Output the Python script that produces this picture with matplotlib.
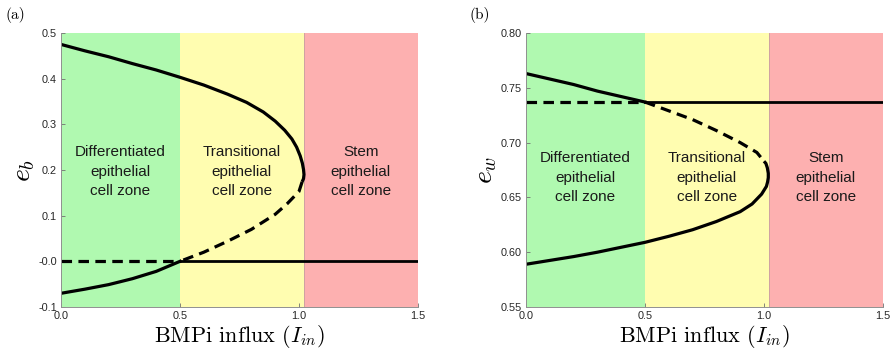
import matplotlib
matplotlib.use('Agg')
import matplotlib.pyplot as plt

plt.rcParams['mathtext.fontset'] = 'cm'
plt.rcParams['font.family'] = ['Liberation Sans', 'DejaVu Sans']

# zone boundaries along the BMPi influx axis
zone_edges = [0.0, 0.5, 1.02, 1.5]
zone_colors = ['#b0f9b0', '#fffdb0', '#fdb0b0']
zone_names = ['Differentiated\nepithelial\ncell zone',
              'Transitional\nepithelial\ncell zone',
              'Stem\nepithelial\ncell zone']
zone_text_x = [0.25, 0.76, 1.26]

# (a) e_b branches
a_upper_I = [0.0, 0.1, 0.2, 0.3, 0.4, 0.5, 0.6, 0.7, 0.78, 0.85, 0.9, 0.94, 0.97, 0.99, 1.005, 1.014, 1.019, 1.021, 1.019, 1.013]
a_upper_e = [0.475, 0.461, 0.448, 0.433, 0.419, 0.403, 0.386, 0.366, 0.348, 0.327, 0.307, 0.287, 0.268, 0.250, 0.231, 0.215, 0.201, 0.190, 0.181, 0.174]
a_unst_I = [1.013, 1.0, 0.95, 0.9, 0.8, 0.7, 0.6, 0.5]
a_unst_e = [0.174, 0.153, 0.126, 0.103, 0.070, 0.044, 0.020, 0.0]
a_lower_I = [0.0, 0.1, 0.2, 0.3, 0.4, 0.5]
a_lower_e = [-0.070, -0.061, -0.051, -0.038, -0.022, 0.0]
a_zero_dash_I = [0.0, 0.5]
a_zero_solid_I = [0.5, 1.5]
a_zero_e = 0.0

# (b) e_w branches
b_upper_I = [0.0, 0.1, 0.2, 0.3, 0.4, 0.5]
b_upper_e = [0.763, 0.758, 0.753, 0.747, 0.742, 0.737]
b_unst_I = [0.5, 0.6, 0.7, 0.8, 0.9, 0.97, 1.0]
b_unst_e = [0.737, 0.729, 0.721, 0.711, 0.700, 0.691, 0.683]
b_lower_I = [1.0, 1.008, 1.014, 1.018, 1.018, 1.015, 1.01, 0.99, 0.95, 0.9, 0.8, 0.7, 0.6, 0.5, 0.4, 0.3, 0.2, 0.1, 0.0]
b_lower_e = [0.683, 0.681, 0.677, 0.672, 0.668, 0.664, 0.660, 0.653, 0.644, 0.637, 0.628, 0.6205, 0.6145, 0.609, 0.6045, 0.600, 0.596, 0.5925, 0.589]
b_flat_dash_I = [0.0, 0.5]
b_flat_solid_I = [0.5, 1.5]
b_flat_e = 0.737

a_yticks = [-0.1, 0.0, 0.1, 0.2, 0.3, 0.4, 0.5]
a_yticklabels = ['-0.1', '-0.0', '0.1', '0.2', '0.3', '0.4', '0.5']
b_yticks = [0.55, 0.60, 0.65, 0.70, 0.75, 0.80]
b_yticklabels = ['0.55', '0.60', '0.65', '0.70', '0.75', '0.80']
xticks = [0.0, 0.5, 1.0, 1.5]
xticklabels = ['0.0', '0.5', '1.0', '1.5']

fig = plt.figure(figsize=(8.93, 3.5), dpi=100)
ax_a = fig.add_axes([61/893, 43/350, 357/893, 274/350])
ax_b = fig.add_axes([526/893, 43/350, 357/893, 274/350])

dash = (0, (3.3, 2.0))
lw = 2.3


def setup(ax, ylim, yticks, yticklabels, ylabel, text_y):
    for i in range(3):
        ax.axvspan(zone_edges[i], zone_edges[i+1], color=zone_colors[i], lw=0, zorder=0)
        ax.text(zone_text_x[i], text_y, zone_names[i], ha='center', va='center',
                fontsize=11, color='#1a1a1a', linespacing=1.5, zorder=1)
    ax.axvline(zone_edges[2], color='#c8a0a0', lw=0.6, zorder=0.5)
    ax.set_xlim(0, 1.5)
    ax.set_ylim(*ylim)
    ax.set_xticks(xticks)
    ax.set_xticklabels(xticklabels)
    ax.set_yticks(yticks)
    ax.set_yticklabels(yticklabels)
    ax.tick_params(direction='in', length=3, width=0.6, color='#707070',
                   labelsize=7.8, labelcolor='#262626', pad=3)
    for s in ['top', 'right']:
        ax.spines[s].set_visible(False)
    for s in ['left', 'bottom']:
        ax.spines[s].set_color('#909090')
        ax.spines[s].set_linewidth(0.7)
    ax.set_xlabel(r'BMPi influx ($I_{in}$)', fontsize=16, family='cmr10', labelpad=1)
    ax.set_ylabel(ylabel, fontsize=20, labelpad=1)


setup(ax_a, (-0.1, 0.5), a_yticks, a_yticklabels, r'$e_b$', 0.196)
ax_a.plot(a_upper_I, a_upper_e, 'k-', lw=lw, solid_capstyle='butt')
ax_a.plot(a_unst_I, a_unst_e, color='k', ls=dash, lw=lw)
ax_a.plot(a_lower_I, a_lower_e, 'k-', lw=lw)
ax_a.plot(a_zero_dash_I, [a_zero_e]*2, color='k', ls=dash, lw=lw)
ax_a.plot(a_zero_solid_I, [a_zero_e]*2, 'k-', lw=2.0)

setup(ax_b, (0.55, 0.80), b_yticks, b_yticklabels, r'$e_w$', 0.668)
ax_b.plot(b_upper_I, b_upper_e, 'k-', lw=lw)
ax_b.plot(b_unst_I, b_unst_e, color='k', ls=dash, lw=lw)
ax_b.plot(b_lower_I, b_lower_e, 'k-', lw=lw, solid_capstyle='butt')
ax_b.plot(b_flat_dash_I, [b_flat_e]*2, color='k', ls=dash, lw=lw)
ax_b.plot(b_flat_solid_I, [b_flat_e]*2, 'k-', lw=2.0)

# panel labels
fig.text(15.5/893, 1 - 15/350, '(a)', fontsize=11, family='cmr10', ha='center', va='center')
fig.text(480/893, 1 - 15/350, '(b)', fontsize=11, family='cmr10', ha='center', va='center')

fig.savefig('out.png', dpi=100)
